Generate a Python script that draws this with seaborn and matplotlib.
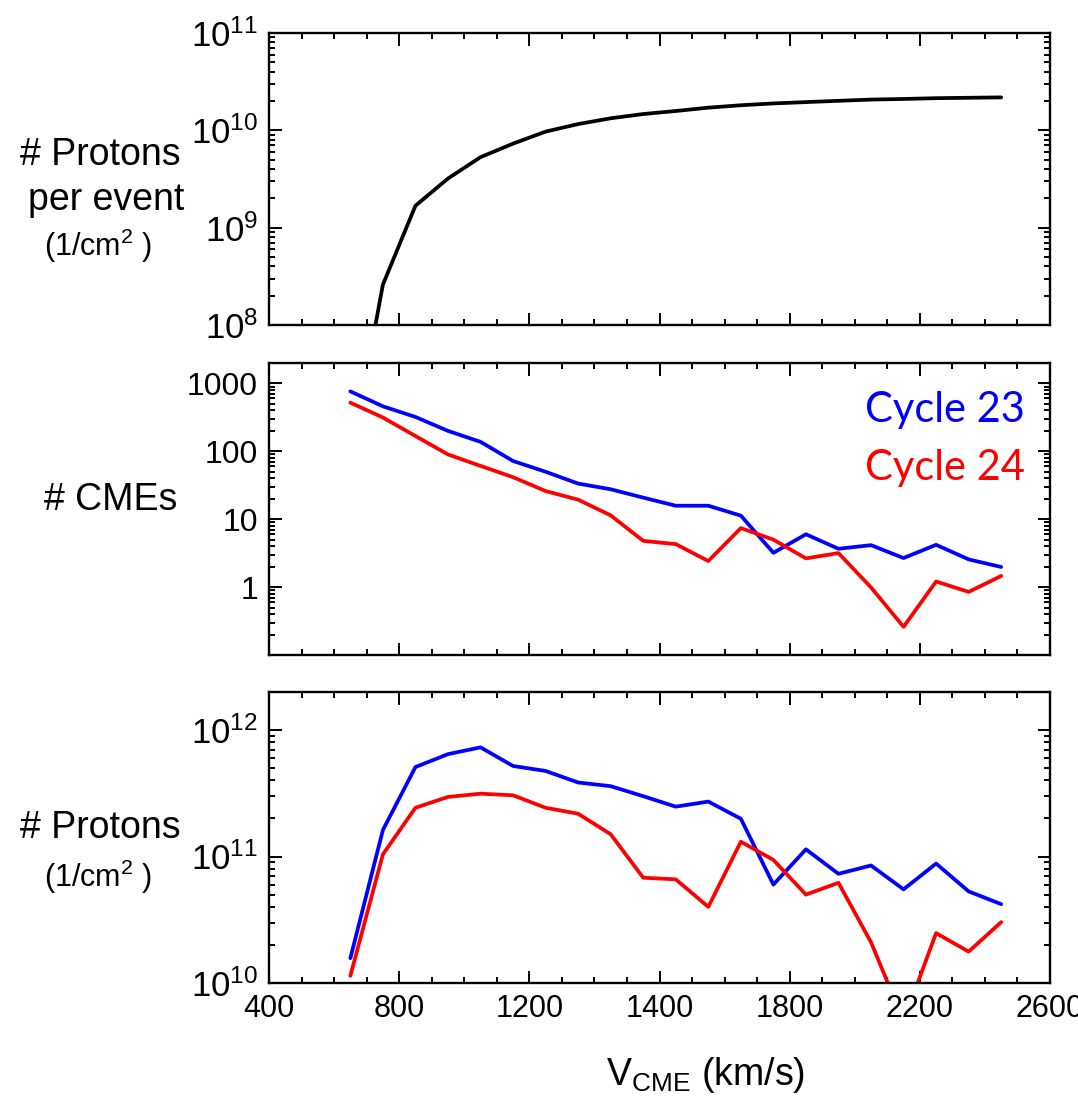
import matplotlib
matplotlib.use("Agg")
import matplotlib.pyplot as plt
import matplotlib.ticker as mticker
import seaborn as sns
import pandas as pd

# data (bin centres in km/s)
v_cme = [650, 750, 850, 950, 1050, 1150, 1250, 1350, 1450, 1550, 1650,
         1750, 1850, 1950, 2050, 2150, 2250, 2350, 2450, 2550, 2650]

protons_per_event = [4e6, 2.6e8, 1.68e9, 3.2e9, 5.3e9, 7.3e9, 9.7e9, 1.16e10,
                     1.33e10, 1.47e10, 1.58e10, 1.71e10, 1.81e10, 1.89e10,
                     1.95e10, 2.01e10, 2.07e10, 2.1e10, 2.14e10, 2.16e10, 2.18e10]

cmes_c23 = [764, 460, 321, 200, 138, 72, 50, 33.5, 27.6, 20.8, 15.8,
            15.8, 11.3, 3.2, 6.0, 3.67, 4.15, 2.68, 4.2, 2.56, 1.98]
cmes_c24 = [521, 315, 168, 90, 61, 41.6, 26, 19.4, 11.4, 4.8, 4.3,
            2.42, 7.4, 5.0, 2.65, 3.17, 0.99, 0.26, 1.21, 0.85, 1.46]

protons_c23 = [1.57e10, 1.62e11, 5.1e11, 6.45e11, 7.3e11, 5.2e11, 4.75e11,
               3.85e11, 3.6e11, 3.0e11, 2.48e11, 2.72e11, 1.99e11, 6.0e10,
               1.14e11, 7.3e10, 8.5e10, 5.5e10, 8.8e10, 5.3e10, 4.2e10]
protons_c24 = [1.14e10, 1.04e11, 2.43e11, 2.96e11, 3.14e11, 3.05e11, 2.43e11,
               2.18e11, 1.5e11, 6.8e10, 6.6e10, 4.0e10, 1.31e11, 9.4e10,
               5.0e10, 6.2e10, 2.1e10, 5e9, 2.48e10, 1.77e10, 3.03e10]

x_ticks = [400, 800, 1200, 1600, 2000, 2400, 2800]
x_tick_labels = ["400", "800", "1200", "1400", "1800", "2200", "2600"]
cme_ticks = [1, 10, 100, 1000]
cme_tick_labels = ["1", "10", "100", "1000"]

df = pd.DataFrame({
    "v": v_cme,
    "ppe": protons_per_event,
    "cme23": cmes_c23,
    "cme24": cmes_c24,
    "p23": protons_c23,
    "p24": protons_c24,
})

sns.set_style("ticks")
plt.rcParams["font.family"] = ["Liberation Sans", "DejaVu Sans"]
plt.rcParams["mathtext.fontset"] = "custom"
plt.rcParams["mathtext.rm"] = "Liberation Sans"
plt.rcParams["mathtext.it"] = "Liberation Sans:italic"
plt.rcParams["mathtext.default"] = "regular"
plt.rcParams["text.color"] = "black"
plt.rcParams["xtick.color"] = "black"
plt.rcParams["ytick.color"] = "black"

W, H = 1078, 1105
fig = plt.figure(figsize=(W / 100, H / 100), dpi=100)

left, right = 269, 1050


def make_ax(top, bottom):
    return fig.add_axes([left / W, 1 - bottom / H, (right - left) / W, (bottom - top) / H])


ax1 = make_ax(33, 325)
ax2 = make_ax(363, 655)
ax3 = make_ax(692, 983)

blue = "#0000ff"
red = "#ff0000"
lw = 2.7

sns.lineplot(data=df, x="v", y="ppe", color="black", linewidth=lw, ax=ax1)
sns.lineplot(data=df, x="v", y="cme23", color=blue, linewidth=lw, ax=ax2)
sns.lineplot(data=df, x="v", y="cme24", color=red, linewidth=lw, ax=ax2)
sns.lineplot(data=df, x="v", y="p23", color=blue, linewidth=lw, ax=ax3)
sns.lineplot(data=df, x="v", y="p24", color=red, linewidth=lw, ax=ax3)

ylims = [(1e8, 1e11), (0.1, 2000), (1e10, 2e12)]
for ax, yl in zip([ax1, ax2, ax3], ylims):
    ax.set_yscale("log")
    ax.set_xlim(400, 2800)
    ax.set_ylim(*yl)
    ax.set_xlabel("")
    ax.set_ylabel("")
    ax.set_xticks(x_ticks)
    ax.xaxis.set_minor_locator(mticker.MultipleLocator(100))
    ax.yaxis.set_major_locator(mticker.LogLocator(base=10, numticks=20))
    ax.yaxis.set_minor_locator(mticker.LogLocator(base=10, subs=range(2, 10), numticks=20))
    ax.yaxis.set_minor_formatter(mticker.NullFormatter())
    ax.tick_params(which="both", direction="in", top=True, right=True, width=1.4)
    ax.tick_params(which="major", length=9)
    ax.tick_params(which="minor", length=4.5)
    ax.tick_params(axis="x", labelsize=22, pad=8)
    ax.tick_params(axis="y", labelsize=25, pad=8)
    for s in ax.spines.values():
        s.set_linewidth(1.7)
        s.set_color("black")
    ax.set_ylim(*yl)

ax1.set_xticklabels([])
ax2.set_xticklabels([])
ax3.set_xticklabels(x_tick_labels)

ax2.set_yticks(cme_ticks)
ax2.set_yticklabels(cme_tick_labels, fontsize=23)
ax2.set_ylim(*ylims[1])

# cycle labels
ax2.text(0.968, 0.839, "Cycle 23", color=blue, fontsize=30, family="Lato",
         ha="right", va="center", transform=ax2.transAxes)
ax2.text(0.968, 0.640, "Cycle 24", color=red, fontsize=30, family="Lato",
         ha="right", va="center", transform=ax2.transAxes)

# y labels
def ftext(x, y, s, size):
    fig.text(x / W, 1 - y / H, s, fontsize=size, ha="center", va="center", color="black")

ftext(100, 155, "# Protons", 27)
ftext(106, 200, "per event", 27)
ftext(98, 246, r"(1/cm$^2$ )", 22)
ftext(111, 500, "# CMEs", 27)
ftext(100, 828, "# Protons", 27)
ftext(98, 877, r"(1/cm$^2$ )", 22)

# x label
ftext(706, 1075, r"V$_{CME}$ (km/s)", 27)

fig.savefig("out.png", dpi=100)
